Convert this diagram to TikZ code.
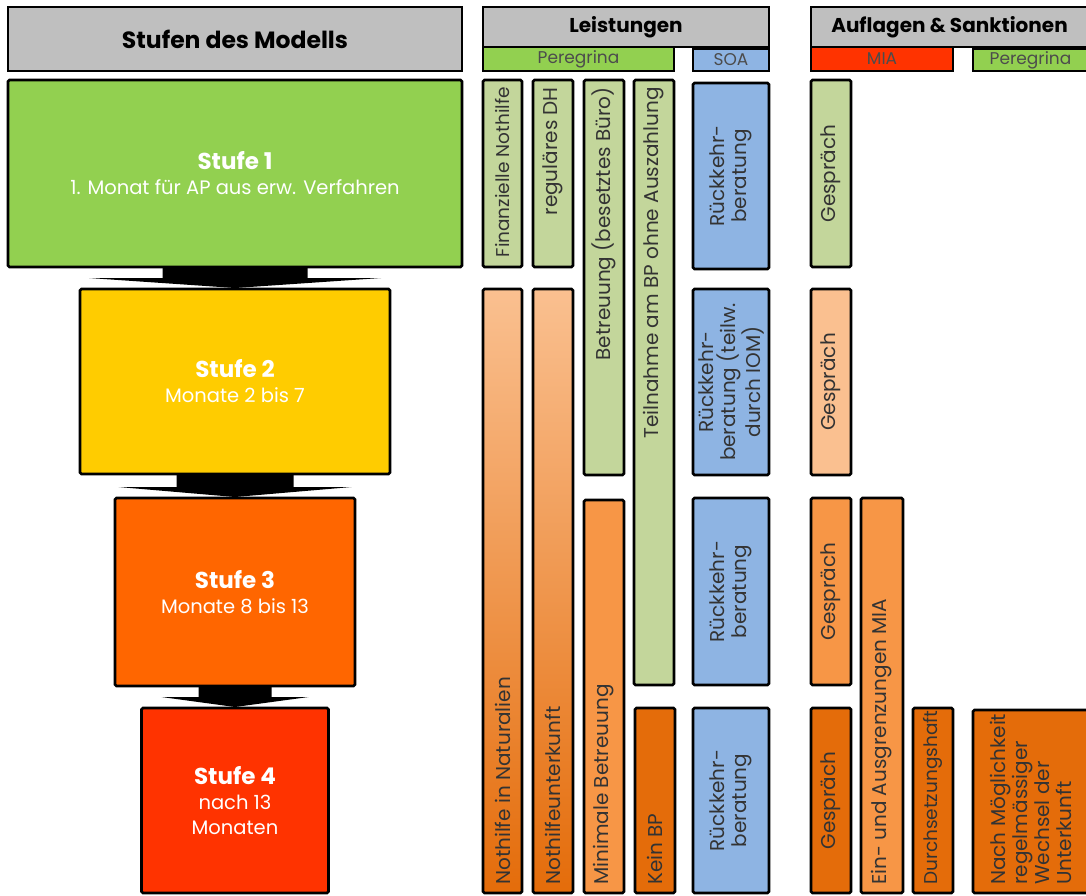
\documentclass[tikz,border=0pt]{standalone}
\usepackage{fontspec}
\setmainfont{Poppins}
\usetikzlibrary{positioning}

\definecolor{hdgray}{HTML}{BFBFBF}
\definecolor{stgreen}{HTML}{92D050}
\definecolor{styellow}{HTML}{FFCC00}
\definecolor{storange}{HTML}{FF6600}
\definecolor{stred}{HTML}{FF3300}
\definecolor{lgreen}{HTML}{C3D69B}
\definecolor{lblue}{HTML}{8EB4E3}
\definecolor{peach}{HTML}{FAC090}
\definecolor{midorange}{HTML}{F79646}
\definecolor{darkorange}{HTML}{E46C0A}

\begin{document}
\begin{tikzpicture}[
	x=1pt, y=-1pt,
	hdbox/.style={
		draw=black,
		line width=2.6pt,
		fill=hdgray,
		inner sep=0pt,
		outer sep=0pt,
		font=\fontsize{20}{22}\selectfont\bfseries},
	tagbar/.style={
		draw=black,
		line width=2.6pt,
		inner sep=0pt,
		outer sep=0pt,
		text=black!70,
		font=\fontsize{17}{19}\selectfont},
	stage/.style={
		draw=black,
		line width=2.6pt,
		rounded corners=1.5pt,
		inner sep=0pt,
		outer sep=0pt,
		align=center,
		text=white,
		font=\fontsize{19.5}{25}\selectfont},
	bar/.style={
		draw=black,
		line width=2.6pt,
		rounded corners=1.5pt,
		inner sep=0pt,
		outer sep=0pt},
	vtxt/.style={
		rotate=90,
		inner sep=0pt,
		align=center,
		text=black!80,
		font=\fontsize{20}{22}\selectfont},
	cgreen/.style={fill=lgreen},
	cblue/.style={fill=lblue},
	cpeach/.style={fill=peach},
	corange/.style={fill=midorange},
	cdark/.style={fill=darkorange},
	cgrad/.style={top color=peach, bottom color=darkorange},
	node distance=22pt
	]
	\useasboundingbox (0,0) rectangle (1086,895);

	% headers
	\node[hdbox, minimum width=454, minimum height=64, font=\fontsize{23.5}{26}\selectfont\bfseries] (hmod) at (235,39) {Stufen des Modells};
	\node[tagbar, fill=stgreen, minimum width=191, minimum height=24] (tper1) at (578.5,59) {Peregrina};
	\node[tagbar, fill=lblue, minimum width=76, minimum height=22] (tsoa) at (731,60) {SOA};
	\node[tagbar, fill=stred, minimum width=142, minimum height=24] (tmia) at (882,59) {MIA};
	\node[tagbar, fill=stgreen, minimum width=115, minimum height=22] (tper2) at (1030.5,60) {Peregrina};
	\node[hdbox, minimum width=286, minimum height=40] (hleist) at (626,27) {Leistungen};
	\node[hdbox, minimum width=277, minimum height=40] (hauf) at (949.5,27) {Auflagen \& Sanktionen};

	% stages
	\node[stage, fill=stgreen, minimum width=454, minimum height=187] (s1) at (235,173.5)
		{{\fontsize{23}{25}\selectfont\bfseries Stufe 1}\\1. Monat für AP aus erw. Verfahren};
	\node[stage, fill=styellow, minimum width=310, minimum height=185, below=of s1] (s2)
		{{\fontsize{23}{25}\selectfont\bfseries Stufe 2}\\Monate 2 bis 7};
	\node[stage, fill=storange, minimum width=240, minimum height=188, below=24pt of s2] (s3)
		{{\fontsize{23}{25}\selectfont\bfseries Stufe 3}\\Monate 8 bis 13};
	\node[stage, fill=stred, minimum width=187, minimum height=185, below=of s3] (s4)
		{{\fontsize{23}{25}\selectfont\bfseries Stufe 4}\\nach 13\\Monaten};

	% block arrows between the stages
	\foreach \a/\b/\sw/\hw in {% from/to/half stem/half head
		s1/s2/72.5/146,
		s2/s3/58.5/116.5,
		s3/s4/36.5/73.5}
		\fill ([xshift=-\sw pt]\a.south) -- ([xshift=\sw pt]\a.south)
			-- ([xshift=\sw pt,yshift=11pt]\b.north) -- ([xshift=\hw pt,yshift=11pt]\b.north)
			-- ([yshift=1pt]\b.north)
			-- ([xshift=-\hw pt,yshift=11pt]\b.north) -- ([xshift=-\sw pt,yshift=11pt]\b.north) -- cycle;

	% bars: name/left/right/top/bottom/fill
	\foreach \nm/\xa/\xb/\ya/\yb/\fc in {
		fnh/483/522/80/267/cgreen,
		rdh/533/573/80/267/cgreen,
		bbu/584/624/80/475/cgreen,
		tbp/634/674/80/685/cgreen,
		rb1/693/769/83/269/cblue,
		ge1/811/851/80/267/cgreen,
		nin/483/522/289/893/cgrad,
		nuk/533/573/289/893/cgrad,
		rb2/693/769/289/475/cblue,
		ge2/811/851/289/475/cpeach,
		mbe/584/624/500/893/corange,
		rb3/693/769/498/685/cblue,
		ge3/811/851/498/685/corange,
		eam/861/903/498/893/corange,
		kbp/635/675/708/893/cdark,
		rb4/693/769/708/893/cblue,
		ge4/811/851/708/893/cdark,
		dsh/913/953/708/893/cdark,
		wdu/973/1088/710/893/cdark}
		\node[bar, \fc, minimum width={\xb-\xa}, minimum height={\yb-\ya}] (\nm) at ({(\xa+\xb)/2},{(\ya+\yb)/2}) {};

	% texts at the top of a bar
	\node[vtxt, anchor=east, font=\fontsize{18.5}{22}\selectfont] (fnh-t) at ([yshift=-7pt]fnh.north) {Finanzielle Nothilfe};
	\foreach \nm/\txt in {
		rdh/reguläres DH,
		bbu/Betreuung (besetztes Büro),
		tbp/Teilnahme am BP ohne Auszahlung}
		\node[vtxt, anchor=east] (\nm-t) at ([yshift=-7pt]\nm.north) {\txt};

	% texts in the middle
	\foreach \nm/\txt in {
		rb1/{Rückkehr-\\beratung},
		ge1/Gespräch,
		rb2/{Rückkehr-\\beratung (teilw.\\durch IOM)},
		ge2/Gespräch,
		rb3/{Rückkehr-\\beratung},
		ge3/Gespräch,
		rb4/{Rückkehr-\\beratung},
		ge4/Gespräch}
		\node[vtxt] (\nm-t) at (\nm) {\txt};

	% texts at the bottom
	\foreach \nm/\txt in {
		nin/Nothilfe in Naturalien,
		nuk/Nothilfeunterkunft,
		mbe/Minimale Betreuung,
		eam/Ein- und Ausgrenzungen MIA,
		kbp/Kein BP}
		\node[vtxt, anchor=west] (\nm-t) at ([yshift=8pt]\nm.south) {\txt};
	\node[vtxt, anchor=west, font=\fontsize{18.5}{22}\selectfont] (dsh-t) at ([yshift=8pt]dsh.south) {Durchsetzungshaft};
	\node[vtxt, anchor=west, align=left] (wdu-t) at ([yshift=8pt]wdu.south)
		{Nach Möglichkeit\\regelmässiger\\Wechsel der\\Unterkunft};
\end{tikzpicture}
\end{document}
